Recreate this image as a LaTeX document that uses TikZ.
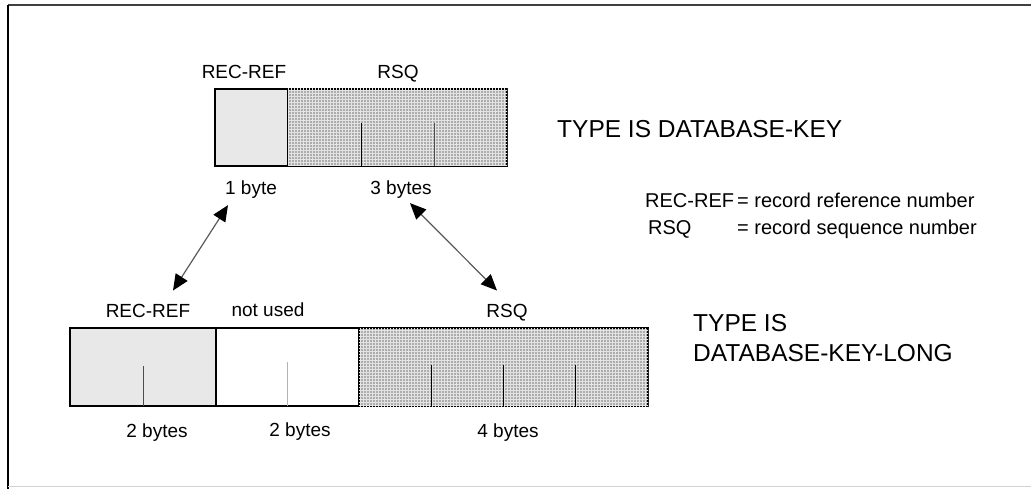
\documentclass[tikz,border=0pt]{standalone}
\usepackage{fontspec}
\setmainfont{Liberation Sans}
\usetikzlibrary{positioning,calc,patterns,arrows.meta}

\tikzset{
  field/.style={draw, line width=1.2, anchor=north west, inner sep=0, outer sep=0},
  plainfield/.style={field, fill=gray!18},
  dotfield/.style={field, fill=gray!65, postaction={pattern=grid, pattern color=gray!22}},
  lbl/.style={font=\fontsize{19}{22}\selectfont, inner sep=1pt, anchor=base},
  bigtxt/.style={font=\fontsize{24.5}{30}\selectfont, inner sep=0, anchor=base west, align=left},
  legtxt/.style={font=\fontsize{20}{24}\selectfont, inner sep=0, anchor=base west},
  tick/.style={line width=0.9},
  link/.style={gray!70!black, line width=1.2, {Triangle[length=16,width=14,color=black]}-{Triangle[length=16,width=14,color=black]}}
}

\begin{document}
\begin{tikzpicture}[x=1pt, y=-1pt]
  \useasboundingbox (0,0) rectangle (1031,489);
  % frame
  \draw[gray!50!black, line width=2] (8,5.5) -- (1031,5.5);
  \draw[black, line width=1.5] (8,5) -- (8,489);
  \draw[gray!35, line width=1] (8,486) -- (1031,486);

  % DATABASE-KEY
  \node[plainfield, minimum width=73, minimum height=77] (recA) at (215,89) {};
  \node[dotfield, minimum width=219, minimum height=77, right=0pt of recA.north east, anchor=north west] (rsqA) {};
  \foreach \k/\c in {1/black, 2/gray!60!black}
    \draw[tick, \c] ($(rsqA.south west)!\k/3!(rsqA.south east)$) -- ++(0,-43);
  \node[lbl] (lrecA) at (244,79) {REC-REF};
  \node[lbl] (lrsqA) at (398,79) {RSQ};
  \node[lbl] (onebyte) at (251,195) {1 byte};
  \node[lbl] (threebytes) at (401,195) {3 bytes};
  \node[bigtxt] (typeA) at (557,138) {TYPE IS DATABASE-KEY};

  % legend
  \node[legtxt] (legrec) at (645,208) {REC-REF};
  \node[legtxt] (legrecd) at (737,208) {= record reference number};
  \node[legtxt] (legrsq) at (648,235) {RSQ};
  \node[legtxt] (legrsqd) at (737,235) {= record sequence number};

  % DATABASE-KEY-LONG
  \node[plainfield, minimum width=146, minimum height=78] (recB) at (70,328) {};
  \node[field, fill=white, minimum width=143, minimum height=78, right=0pt of recB.north east, anchor=north west] (freeB) {};
  \node[dotfield, minimum width=289, minimum height=78, right=0pt of freeB.north east, anchor=north west] (rsqB) {};
  \draw[tick, gray!60!black] (recB.south) -- ++(0,-40);
  \draw[tick, gray!60] (freeB.south) -- ++(0,-44);
  \foreach \k in {1,2,3}
    \draw[tick] ($(rsqB.south west)!\k/4!(rsqB.south east)$) -- ++(0,-41);
  \node[lbl] (lrecB) at (148,317) {REC-REF};
  \node[lbl] (lfreeB) at (268,316) {not used};
  \node[lbl] (lrsqB) at (507,317) {RSQ};
  \node[lbl] (twobytesA) at (157,437) {2 bytes};
  \node[lbl] (twobytesB) at (300,436) {2 bytes};
  \node[lbl] (fourbytes) at (508,437) {4 bytes};
  \node[bigtxt] (typeB) at (693,361) {TYPE IS\\DATABASE-KEY-LONG};

  % correspondences
  \draw[link] ([shift={(-23,5)}]onebyte.south) -- ([shift={(25,-12)}]lrecB.north);
  \draw[link] ([shift={(9,3)}]threebytes.south) -- ([shift={(-10,-12)}]lrsqB.north);
\end{tikzpicture}
\end{document}
